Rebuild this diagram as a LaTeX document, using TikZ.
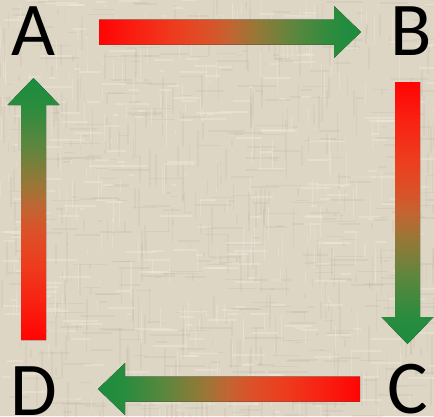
\documentclass[tikz,border=0pt]{standalone}
\usepackage{fontspec}
\setmainfont{Carlito}
\usetikzlibrary{calc}

\definecolor{canvas}{RGB}{222,214,197}
\definecolor{canvasdark}{RGB}{188,178,158}
\definecolor{canvaslight}{RGB}{240,234,222}
\definecolor{ramp0}{RGB}{255,4,4}
\definecolor{ramp1}{RGB}{248,34,18}
\definecolor{ramp2}{RGB}{236,62,31}
\definecolor{ramp3}{RGB}{218,82,41}
\definecolor{ramp4}{RGB}{195,100,50}
\definecolor{ramp5}{RGB}{150,120,55}
\definecolor{ramp6}{RGB}{90,135,62}
\definecolor{ramp7}{RGB}{40,140,62}
\definecolor{ramp8}{RGB}{28,140,62}

% red-to-green ramp along x; the part from 25bp to 75bp covers the filled path
\pgfdeclarehorizontalshading{redgreen}{100bp}{%
  color(0bp)=(ramp0); color(25bp)=(ramp0); color(32.5bp)=(ramp1);
  color(40bp)=(ramp2); color(46bp)=(ramp3); color(50bp)=(ramp4);
  color(55bp)=(ramp5); color(62.5bp)=(ramp6); color(70bp)=(ramp7);
  color(75bp)=(ramp8); color(100bp)=(ramp8)}

\tikzset{
  letter/.style={font=\fontsize{76}{76}\selectfont, text=black, inner sep=0pt, anchor=base},
  flowright/.style={shading=redgreen, shading angle=0},
  flowleft/.style={shading=redgreen, shading angle=180},
  flowdown/.style={shading=redgreen, shading angle=-90},
  flowup/.style={shading=redgreen, shading angle=90},
}

% block arrow: #1 fill style, #2 tail, #3 tip
\newcommand{\blockarrow}[3]{%
  \coordinate (hb) at ($(#3)!27pt!(#2)$);
  \fill[#1] ($(#2)!12.5pt!90:(#3)$) -- ($(hb)!12.5pt!90:(#3)$)
    -- ($(hb)!26pt!90:(#3)$) -- (#3) -- ($(hb)!26pt!-90:(#3)$)
    -- ($(hb)!12.5pt!-90:(#3)$) -- ($(#2)!12.5pt!-90:(#3)$) -- cycle;
}

\begin{document}
\begin{tikzpicture}[x=1pt, y=-1pt]
  % linen background
  \fill[canvas] (0,0) rectangle (434,416);
  \useasboundingbox (0,0) rectangle (434,416);
  \begin{scope}
    \clip (0,0) rectangle (434,416);
    \pgfmathsetseed{11}
    \foreach \i in {1,...,380}{
      \pgfmathsetmacro{\px}{random(0,434)}
      \pgfmathsetmacro{\py}{random(0,416)}
      \pgfmathsetmacro{\pl}{random(4,40)}
      \pgfmathsetmacro{\pw}{0.6+rnd*1.2}
      \draw[canvasdark, opacity=0.22, line width=\pw pt] (\px,\py) -- ++(\pl,0);
    }
    \foreach \i in {1,...,380}{
      \pgfmathsetmacro{\px}{random(0,434)}
      \pgfmathsetmacro{\py}{random(0,416)}
      \pgfmathsetmacro{\pl}{random(4,40)}
      \pgfmathsetmacro{\pw}{0.6+rnd*1.2}
      \draw[canvasdark, opacity=0.2, line width=\pw pt] (\px,\py) -- ++(0,\pl);
    }
    \foreach \i in {1,...,260}{
      \pgfmathsetmacro{\px}{random(0,434)}
      \pgfmathsetmacro{\py}{random(0,416)}
      \pgfmathsetmacro{\pl}{random(4,36)}
      \draw[canvaslight, opacity=0.4, line width=1.2pt] (\px,\py) -- ++(\pl,0);
      \draw[canvaslight, opacity=0.35, line width=1pt] (\py,\px) -- ++(0,\pl);
    }
  \end{scope}

  % corner labels
  \node[letter] (A) at (33,55) {A};
  \node[letter] (B) at (411,55) {B};
  \node[letter] (C) at (408,413) {C};
  \node[letter] (D) at (34,415) {D};

  % arrow end points
  \coordinate (ab-tail) at (99,32);   \coordinate (ab-tip) at (361,32);
  \coordinate (bc-tail) at (407.5,82); \coordinate (bc-tip) at (407.5,344);
  \coordinate (cd-tail) at (360,389); \coordinate (cd-tip) at (98,389);
  \coordinate (da-tail) at (33.5,340); \coordinate (da-tip) at (33.5,78);

  \blockarrow{flowright}{ab-tail}{ab-tip}
  \blockarrow{flowdown}{bc-tail}{bc-tip}
  \blockarrow{flowleft}{cd-tail}{cd-tip}
  \blockarrow{flowup}{da-tail}{da-tip}
\end{tikzpicture}
\end{document}
